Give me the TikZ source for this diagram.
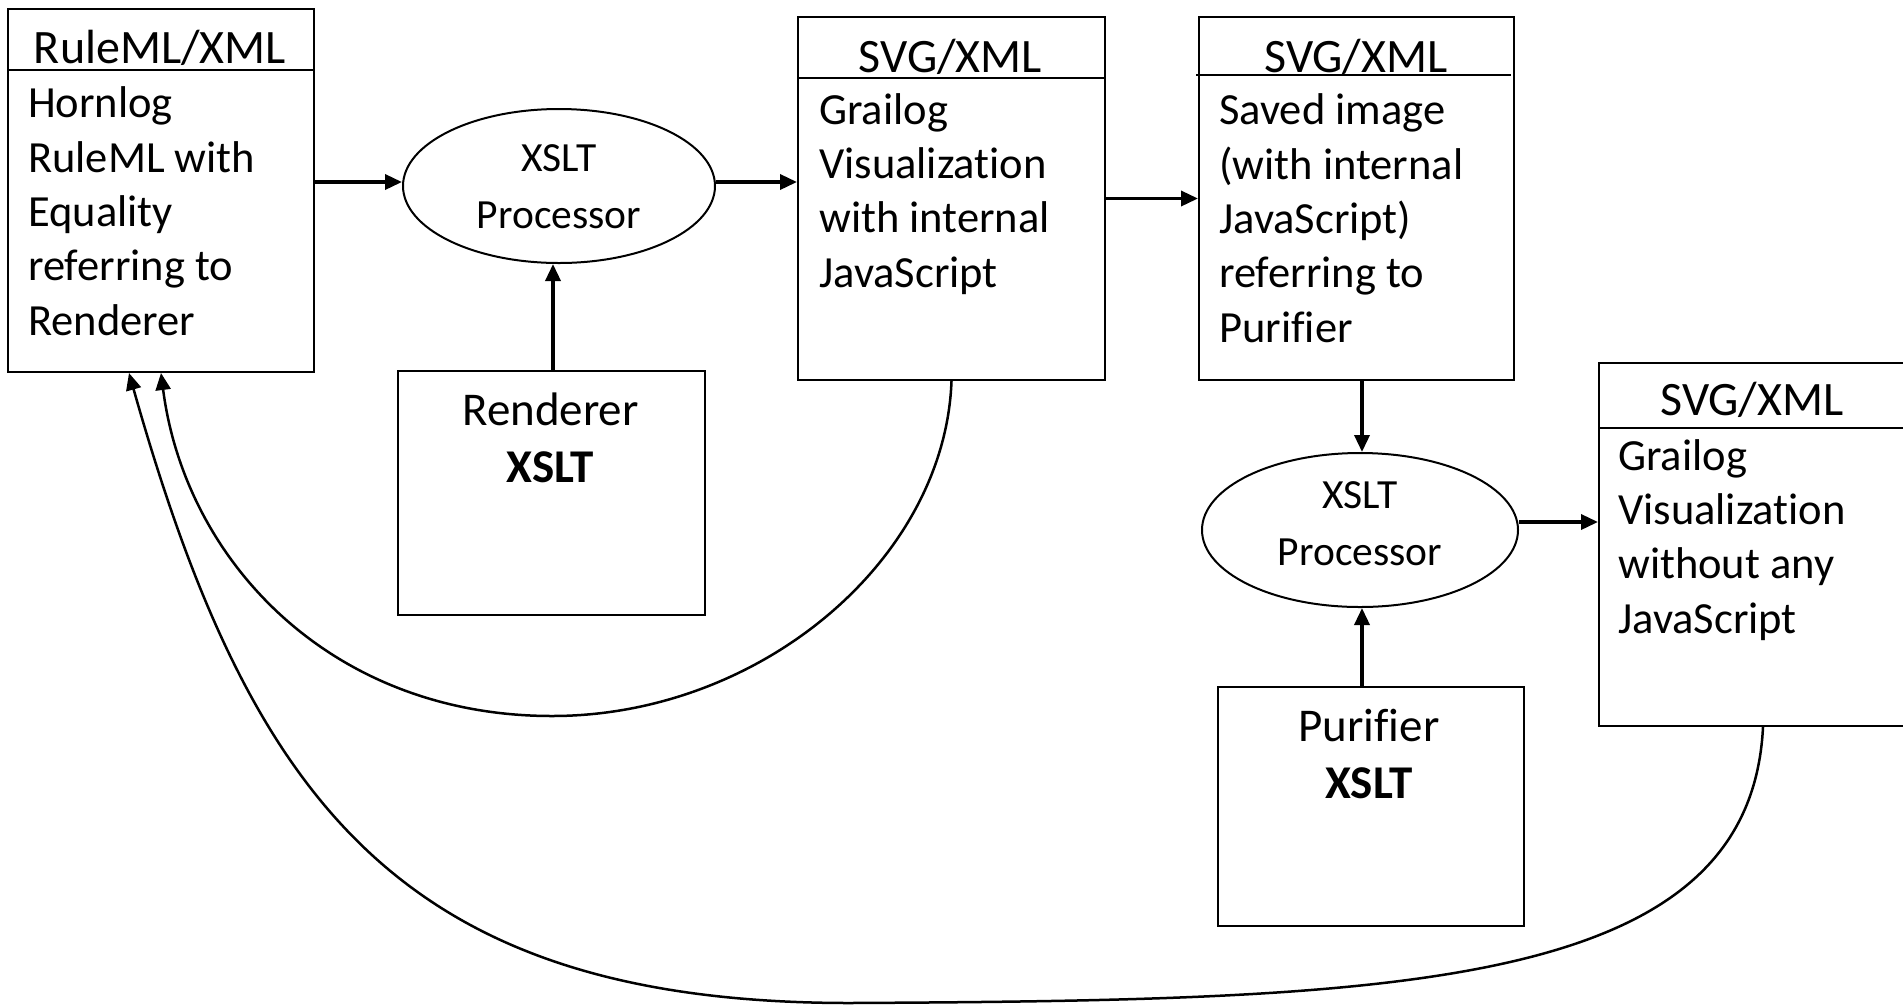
\documentclass[tikz,border=0pt]{standalone}
\usepackage{fontspec}
\setmainfont{Carlito}[Ligatures=NoCommon]
\usetikzlibrary{arrows.meta,shapes.geometric}
\begin{document}
\begin{tikzpicture}[x=1pt,y=-1pt,
  box/.style={draw, line width=2pt, inner sep=0pt, anchor=north west},
  arr/.style={line width=3.5pt, -{Triangle[length=17pt,width=15pt]}},
  back/.style={line width=2.5pt, -{Triangle[length=17pt,width=15pt]}},
  hdr/.style={inner sep=0pt, anchor=base, font=\fontsize{48}{54}\selectfont},
  bod/.style={inner sep=0pt, anchor=base west, align=left, font=\fontsize{44.5}{54.3}\selectfont},
  ell/.style={draw, ellipse, line width=2pt, inner sep=0pt, minimum width=312pt, minimum height=154pt},
  etx/.style={inner sep=0pt, anchor=base, align=center, font=\fontsize{41.5}{57}\selectfont},
  src/.style={inner sep=0pt, anchor=base, align=center, font=\fontsize{47}{57}\selectfont},
  sep/.style={line width=2pt}]
\useasboundingbox (0,0) rectangle (1903,1005);
\fill[white] (0,0) rectangle (1903,1005);

% Box 1: RuleML/XML
\node[box, minimum width=306pt, minimum height=363pt] (b1) at (7,8) {};
\draw[sep] (7,70) -- (313,70);
\node[hdr] (h1) at (160,63) {RuleML/XML};
\node[bod] (t1) at (28,335) {Hornlog\\RuleML with\\Equality\\referring to\\Renderer};

% Ellipse 1
\node[ell] (e1) at (559,186) {};
\node[etx] (x1) at (559,228) {XSLT\\Processor};

% Renderer box
\node[box, minimum width=307pt, minimum height=244pt] (rend) at (397,370) {};
\node[src] (r1) at (550.5,482) {Renderer\\\textbf{XSLT}};

% Box 2
\node[box, minimum width=307pt, minimum height=363pt] (b2) at (797,16) {};
\draw[sep] (797,78) -- (1104,78);
\node[hdr] (h2) at (950.5,72) {SVG/XML};
\node[bod] (t2) at (819,287) {Grailog\\Visualization\\with internal\\JavaScript};

% Box 3
\node[box, minimum width=315pt, minimum height=363pt] (b3) at (1198,16) {};
\draw[sep] (1196,75) -- (1511,75);
\node[hdr] (h3) at (1356,72) {SVG/XML};
\node[bod] (t3) at (1219,342) {Saved image\\(with internal\\JavaScript)\\referring to\\Purifier};

% Ellipse 2
\node[ell, minimum width=316pt] (e2) at (1360,530) {};
\node[etx] (x2) at (1360,565) {XSLT\\Processor};

% Purifier box
\node[box, minimum width=306pt, minimum height=239pt] (pur) at (1217,686) {};
\node[src] (p1) at (1369,798) {Purifier\\\textbf{XSLT}};

% Box 4
\node[box, minimum width=308pt, minimum height=363pt] (b4) at (1598,362) {};
\draw[sep] (1598,428) -- (1903,428);
\node[hdr] (h4) at (1752,415) {SVG/XML};
\node[bod] (t4) at (1618,633) {Grailog\\Visualization\\without any\\JavaScript};

% Straight connectors
\draw[arr] ([yshift=4pt]e1.west -| b1.east) -- ([yshift=4pt]e1.west);
\draw[arr] ([yshift=4pt]e1.east) -- ([yshift=4pt]e1.east -| b2.west);
\draw[arr] ([xshift=-6pt]rend.north -| e1.south) -- ([xshift=-6pt]e1.south);
\draw[arr] (b2.east) -- (b3.west);
\draw[arr] ([xshift=2pt]e2.north |- b3.south) -- ([xshift=2pt]e2.north);
\draw[arr] ([xshift=2pt]pur.north -| e2.south) -- ([xshift=2pt]e2.south);
\draw[arr] ([yshift=8pt]e2.east) -- ([yshift=8pt]e2.east -| b4.west);

% Curved feedback connectors
\draw[back] (b2.south) .. controls (945,560) and (760,716) .. (552,716)
  .. controls (330,716) and (185,560) .. (b1.south);
\draw[back] ([xshift=10pt]b4.south) .. controls (1750,990) and (1400,1000) .. (850,1003)
  .. controls (400,1003) and (250,800) .. ([xshift=-32pt]b1.south);
\end{tikzpicture}
\end{document}
